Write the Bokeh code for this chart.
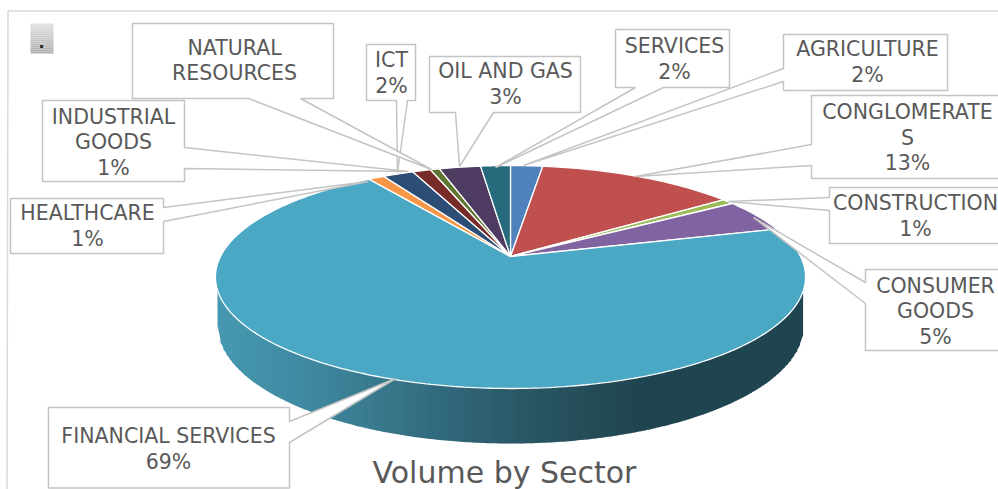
import numpy as np
from bokeh.plotting import figure
from bokeh.models import Range1d
from bokeh.core.properties import value
from bokeh.embed import file_html
from bokeh.resources import INLINE

# ---- data (clockwise from 12 o'clock)
sectors = ["AGRICULTURE", "CONGLOMERATES", "CONSTRUCTION", "CONSUMER GOODS", "FINANCIAL SERVICES",
           "HEALTHCARE", "ICT", "INDUSTRIAL GOODS", "NATURAL RESOURCES", "OIL AND GAS", "SERVICES"]
shares = [2.1, 13.0, 0.8, 4.8, 69.8, 1.05, 2.0, 1.2, 0.6, 2.7, 1.95]
pct_labels = ["2%", "13%", "1%", "5%", "69%", "1%", "2%", "1%", "", "3%", "2%"]
title_text = "Volume by Sector"

# ---- styles and layout (page pixels)
colors = ["#4F81BD", "#C0504D", "#9BBB59", "#8064A2", "#4AA8C4", "#F79646",
          "#2C4D75", "#772C2A", "#5F7530", "#4D3B62", "#276A7C"]
TXT = "#595959"
LINE = "#C4C4C4"
FONT = "DejaVu Sans"

W, H = 998, 489
p = figure(width=W, height=H, output_backend="svg", toolbar_location=None,
           x_range=Range1d(0, W), y_range=Range1d(H, 0), min_border=0,
           outline_line_color=None, background_fill_color="white")
p.axis.visible = False
p.grid.visible = False

# chart border
p.line([6.5, 7.5, 998], [489, 10.5, 10.5], line_color="#D9D9D9", line_width=1.5)

# button
rows = np.arange(23, 52, 2.0)
shade = np.linspace(224, 176, len(rows)).astype(int)
p.quad(left=30, right=53, top=rows, bottom=rows + 2,
       fill_color=["#%02x%02x%02x" % (s, s, s) for s in shade], line_color=None)
p.text([41], [41], text=["."], text_font=value(FONT), text_font_size="16px", text_color="#222222",
       text_align="center", text_baseline="middle", text_font_style="bold")

# pie perspective
AX, BY, K, CX, CY = 290.0, 107.7, 0.184, 510.0, 256.0
def rim(pct):
    t = np.radians(np.asarray(pct, dtype=float) * 3.6)
    u, v = np.sin(t), np.cos(t)
    d = 1 + K * v
    return CX + AX * u / d, CY - BY * v / d

# side wall
TOP_C, TOP_RX, TOP_RY = 276.5, 295.0, 111.5
BOT_C, BOT_RX, BOT_RY = 325.0, 293.0, 118.0
stops_x = [217, 300, 380, 450, 520, 600, 640, 805]
stops_rgb = np.array([[0x46, 0x98, 0xB0], [0x3F, 0x8A, 0xA2], [0x39, 0x78, 0x8C], [0x30, 0x67, 0x7A],
                      [0x2A, 0x58, 0x66], [0x23, 0x4B, 0x56], [0x1F, 0x45, 0x50], [0x1F, 0x45, 0x50]], float)
edges = np.arange(217, 804, 3.0)
def wall_top(x):
    return TOP_C + TOP_RY * np.sqrt(np.clip(1 - ((x - CX) / TOP_RX) ** 2, 0, 1))
def wall_bot(x):
    return BOT_C + BOT_RY * np.sqrt(np.clip(1 - ((x - CX) / BOT_RX) ** 2, 0, 1))
wx, wy, wc = [], [], []
for a, b in zip(edges[:-1], edges[1:]):
    m = (a + b) / 2
    rgb = [np.interp(m, stops_x, stops_rgb[:, i]) for i in range(3)]
    wx.append([a, b + 0.6, b + 0.6, a])
    wy.append([wall_top(a) - 3, wall_top(b) - 3, wall_bot(b), wall_bot(a)])
    wc.append("#%02x%02x%02x" % tuple(int(round(c)) for c in rgb))
p.patches(wx, wy, fill_color=wc, line_color=None)

# top slices
cum = np.concatenate([[0], np.cumsum(shares)])
cum = cum / cum[-1] * 100
sx, sy = [], []
for a, b in zip(cum[:-1], cum[1:]):
    xs, ys = rim(np.linspace(a, b, max(4, int((b - a) * 4))))
    sx.append(np.concatenate([[CX], xs]).tolist())
    sy.append(np.concatenate([[CY], ys]).tolist())
p.patches(sx, sy, fill_color=colors, line_color="white", line_width=1.3)

# callouts: box (l, r, t, b), wedge base side + two base points, tip
callouts = {
    "NATURAL RESOURCES": ((132, 333, 23, 98), "b", (248, 300), (431, 169)),
    "ICT": ((366, 415, 44, 100), "b", (396, 407), (397, 172)),
    "OIL AND GAS": ((429, 580, 56, 112), "b", (455, 493), (459, 166)),
    "INDUSTRIAL GOODS": ((42, 184, 100, 181), "r", (147, 168), (408, 171)),
    "HEALTHCARE": ((10, 163, 198, 253), "r", (207, 221), (368, 181)),
    "SERVICES": ((615, 729, 29, 87), "b", (635, 663), (495, 167)),
    "AGRICULTURE": ((783, 947, 34, 90), "l", (68, 81), (523, 165)),
    "CONGLOMERATES": ((811, 1006, 95, 178), "l", (144, 165), (635, 176)),
    "CONSTRUCTION": ((829, 1006, 187, 243), "l", (197, 210), (728, 201)),
    "CONSUMER GOODS": ((865, 1006, 269, 350), "l", (282, 303), (753, 217)),
    "FINANCIAL SERVICES": ((48, 289, 407, 487.5), "r", (421, 442), (395, 378)),
}
cx_, cy_ = [], []
for name in sectors:
    (l, r, t, b), side, base, tip = callouts[name]
    if side == "b":
        xs = [l, r, r, base[1], tip[0], base[0], l]
        ys = [t, t, b, b, tip[1], b, b]
    elif side == "r":
        xs = [l, r, r, tip[0], r, r, l]
        ys = [t, t, base[0], tip[1], base[1], b, b]
    else:
        xs = [l, r, r, l, l, tip[0], l]
        ys = [t, t, b, b, base[1], tip[1], base[0]]
    cx_.append(xs)
    cy_.append(ys)
p.patches(cx_, cy_, fill_color="white", line_color=LINE, line_width=1.5)

# label text: lines per sector and their centres
label_lines = {
    "NATURAL RESOURCES": (["NATURAL", "RESOURCES"], 234, [47, 72]),
    "ICT": (["ICT"], 391, [59, 85]),
    "OIL AND GAS": (["OIL AND GAS"], 505, [70, 96]),
    "INDUSTRIAL GOODS": (["INDUSTRIAL", "GOODS"], 113, [116, 141, 167]),
    "HEALTHCARE": (["HEALTHCARE"], 87, [212, 238]),
    "SERVICES": (["SERVICES"], 674, [45, 71]),
    "AGRICULTURE": (["AGRICULTURE"], 867, [48, 74]),
    "CONGLOMERATES": (["CONGLOMERATE", "S"], 907, [111, 137, 162]),
    "CONSTRUCTION": (["CONSTRUCTION"], 915, [202, 228]),
    "CONSUMER GOODS": (["CONSUMER", "GOODS"], 935, [285, 310, 336]),
    "FINANCIAL SERVICES": (["FINANCIAL SERVICES"], 168, [435, 461]),
}
tx, ty, tt = [], [], []
for name, pct in zip(sectors, pct_labels):
    lines, x, ys = label_lines[name]
    all_lines = lines + ([pct] if pct else [])
    for s, y in zip(all_lines, ys):
        tx.append(x); ty.append(y); tt.append(s)
p.text(x=tx, y=ty, text=tt, text_font=value(FONT), text_font_size="20.5px", text_color=TXT,
       text_align="center", text_baseline="middle")

# title
p.text([504], [472], text=[title_text], text_font=value(FONT), text_font_size="30px", text_color=TXT,
       text_align="center", text_baseline="middle")

open("out.html", "w").write(file_html(p, INLINE))
